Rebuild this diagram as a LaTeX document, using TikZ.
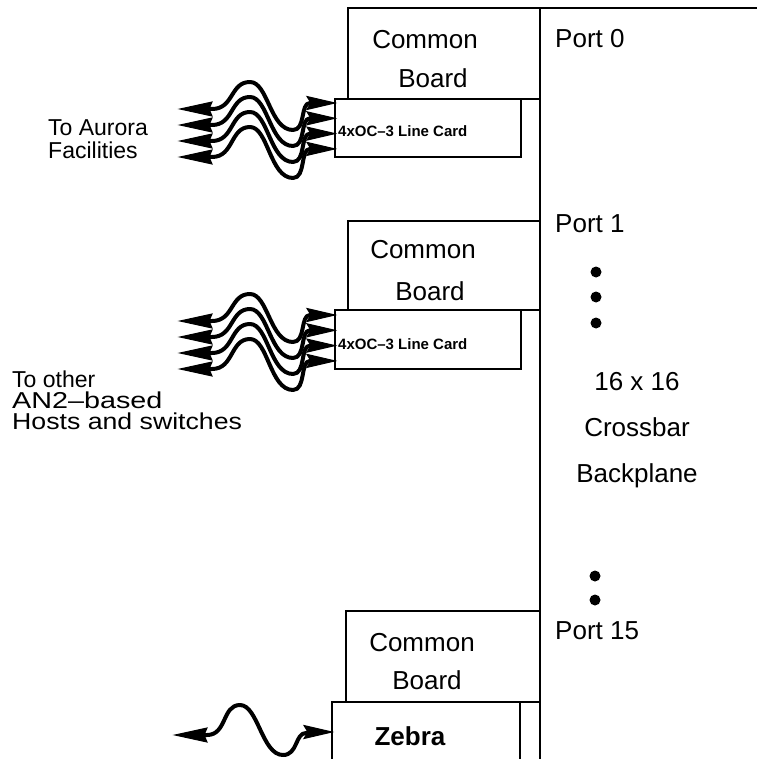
\documentclass[tikz,border=0pt]{standalone}
\usepackage{fontspec}
\setmainfont{Liberation Sans}
\usetikzlibrary{arrows.meta}
\begin{document}
\begin{tikzpicture}[x=1pt,y=-1pt,
  box/.style={draw, line width=1.8pt, inner sep=0pt, outer sep=0pt, anchor=north west},
  lbl/.style={font=\fontsize{26}{30}\selectfont, inner sep=0pt, anchor=base},
  portlbl/.style={font=\fontsize{26}{30}\selectfont, inner sep=0pt, anchor=base west},
  side/.style={font=\fontsize{23}{27}\selectfont, inner sep=0pt, anchor=base west},
  cardlbl/.style={font=\bfseries\fontsize{15}{18}\selectfont, inner sep=0pt, anchor=base west},
  wave/.style={line width=4pt, line join=round},
  headfill/.style={fill=black, draw=black, line width=1pt, line join=miter},
  dotmark/.style={circle, fill, inner sep=0pt, minimum size=11pt}]
\useasboundingbox (0,0) rectangle (757,759);

% backplane
\coordinate (bpTop) at (540,8);
\coordinate (bpBot) at (540,759);
\coordinate (bpRight) at (757,8);
\draw[line width=2.2pt] (bpBot) -- (bpTop) -- (bpRight);

% boards
\node[box, minimum width=192pt, minimum height=91pt] (board0) at (348,8) {};
\node[box, minimum width=186pt, minimum height=58pt] (card0) at (335,99) {};
\node[box, minimum width=192pt, minimum height=89pt] (board1) at (348,221) {};
\node[box, minimum width=186pt, minimum height=59pt] (card1) at (335,310) {};
\node[box, minimum width=194pt, minimum height=91pt] (board15) at (346,611) {};
\coordinate (zA) at (332,759);
\coordinate (zB) at (332,702);
\coordinate (zC) at (540,702);
\coordinate (zD) at (520,702);
\coordinate (zE) at (520,759);
\draw[line width=1.8pt] (zA) -- (zB) -- (zC);
\draw[line width=1.8pt] (zD) -- (zE);

% board texts
\node[lbl] (c0a) at (425,49) {Common};
\node[lbl] (c0b) at (433,88) {Board};
\node[lbl] (c1a) at (423,258) {Common};
\node[lbl] (c1b) at (430,300) {Board};
\node[lbl] (c15a) at (422,651) {Common};
\node[lbl] (c15b) at (427,689) {Board};
\node[cardlbl] (t0) at (338,137) {4xOC--3 Line Card};
\node[cardlbl] (t1) at (338,349) {4xOC--3 Line Card};
\node[lbl, font=\bfseries\fontsize{26}{30}\selectfont] (zebra) at (410,745) {Zebra};

% port labels
\node[portlbl] (p0) at (555,48) {Port 0};
\node[portlbl] (p1) at (555,232) {Port 1};
\node[portlbl] (p15) at (555,639) {Port 15};
\node[lbl] (x16) at (637,390) {16 x 16};
\node[lbl] (xbar) at (637,436) {Crossbar};
\node[lbl] (xbp) at (637,482) {Backplane};

% dots
\node[dotmark] (d1) at (596,272) {};
\node[dotmark] (d2) at (596,297) {};
\node[dotmark] (d3) at (596,323) {};
\node[dotmark] (d4) at (595,576) {};
\node[dotmark] (d5) at (595,600) {};

% side labels
\node[side] (a1) at (48,136) {To Aurora};
\node[side] (a2) at (48,159) {Facilities};
\node[side] (o1) at (12,387) {To other};
\node[side] (o2) at (12,408) {\scalebox{1.25}[1]{AN2--based}};
\node[side] (o3) at (12,429) {\scalebox{1.16}[1]{Hosts and switches}};

% waves
\foreach \g/\dy in {0/0, 1/212} {
  \foreach \i in {0,...,3} {
    \pgfmathsetmacro\L{109+16*\i+\dy}
    \pgfmathsetmacro\P{82+15*\i+\dy}
    \pgfmathsetmacro\T{130+16*\i+\dy}
    \pgfmathsetmacro\R{103+15.3*\i+\dy}
    \coordinate (w\g\i) at (180,\L);
    \coordinate (e\g\i) at (card\g.west |- 0,\R);
    \draw[wave] (206,\L) -- (212,\L) .. controls (234,\L) and (230,\P) .. (250,\P)
      .. controls (268,\P) and (270,\T) .. (293,\T)
      .. controls (306,\T) and (300,\R) .. (310,\R) -- (314,\R);
    \filldraw[headfill] (w\g\i) -- (212,\L-7) -- (209,\L) -- (212,\L+7) -- cycle;
    \filldraw[headfill] (e\g\i) -- (307,\R-6.5) -- (311,\R) -- (307,\R+6.5) -- cycle;
  }
}
\coordinate (wz) at (175,735);
\coordinate (ez) at (zB |- 0,732);
\draw[wave] (202,735) -- (207,735) .. controls (227,735) and (222,705) .. (240,705)
  .. controls (258,705) and (262,755) .. (283,755)
  .. controls (298,755) and (295,733) .. (306,733) -- (310,732);
\filldraw[headfill] (wz) -- (207,728) -- (204,735) -- (207,742) -- cycle;
\filldraw[headfill] (ez) -- (304,725.5) -- (308,732) -- (304,738.5) -- cycle;
\end{tikzpicture}
\end{document}
